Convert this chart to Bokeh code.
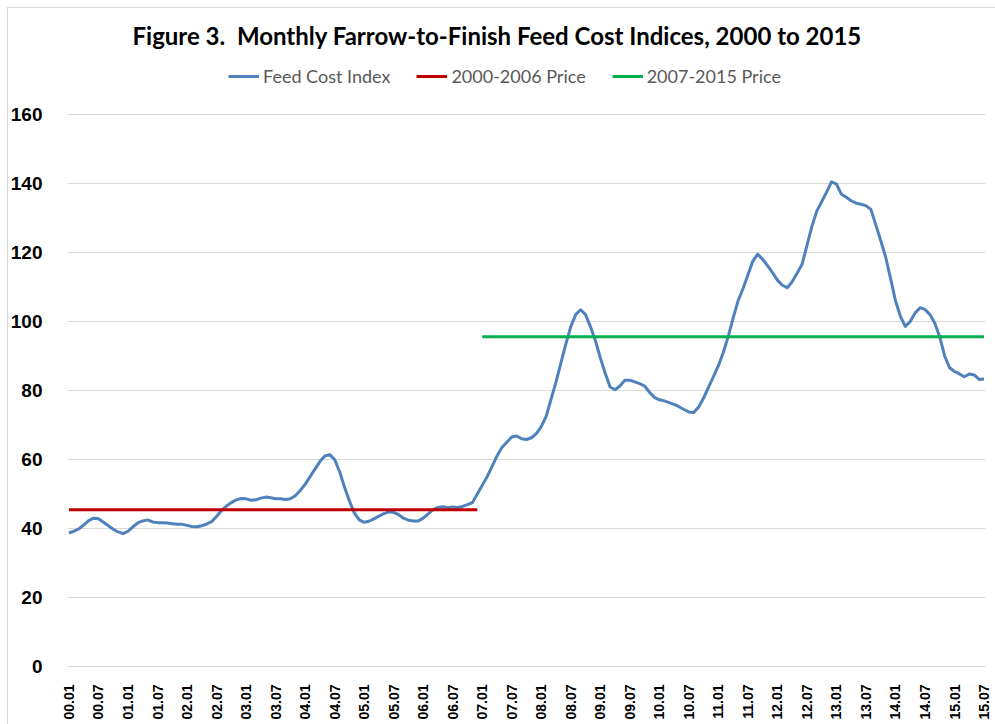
from bokeh.plotting import figure
from bokeh.models import (Range1d, FixedTicker, Legend, LegendItem, InlineStyleSheet)
from bokeh.embed import file_html
from bokeh.resources import INLINE

# ---- data -------------------------------------------------------------
years = list(range(2000, 2016))
months = [f"{y}.{m:02d}" for y in years for m in range(1, 13)][:187]  # 2000.01 .. 2015.07

feed_cost_index = [
    # 2000
    38.7, 39.2, 39.9, 41.0, 42.3, 43.0, 42.8, 41.8, 40.8, 39.8, 39.0, 38.5,
    # 2001
    39.2, 40.5, 41.6, 42.2, 42.5, 41.9, 41.7, 41.7, 41.6, 41.4, 41.2, 41.2,
    # 2002
    40.9, 40.6, 40.5, 40.8, 41.3, 42.0, 43.5, 45.2, 46.5, 47.5, 48.3, 48.7,
    # 2003
    48.6, 48.2, 48.3, 48.8, 49.1, 48.9, 48.6, 48.6, 48.4, 48.6, 49.5, 51.0,
    # 2004
    52.8, 55.0, 57.2, 59.4, 61.0, 61.4, 60.0, 56.5, 52.0, 48.0, 44.5, 42.5,
    # 2005
    41.8, 42.1, 42.8, 43.6, 44.3, 44.8, 44.7, 44.0, 43.0, 42.4, 42.2, 42.2,
    # 2006
    43.0, 44.2, 45.5, 46.1, 46.3, 46.0, 46.2, 46.1, 46.4, 46.9, 47.5, 50.0,
    # 2007
    52.5, 55.0, 58.0, 61.0, 63.5, 65.0, 66.5, 66.8, 66.0, 65.8, 66.3, 67.5,
    # 2008
    69.5, 72.5, 77.5, 82.5, 88.0, 93.5, 98.5, 102.0, 103.4, 102.0, 98.5, 94.5,
    # 2009
    89.5, 85.0, 81.0, 80.2, 81.3, 83.0, 83.0, 82.5, 82.0, 81.3, 79.5, 78.0,
    # 2010
    77.3, 77.0, 76.5, 76.0, 75.3, 74.5, 73.8, 73.6, 75.2, 77.8, 81.0, 84.0,
    # 2011
    87.2, 91.0, 95.6, 101.0, 106.0, 109.5, 113.5, 117.5, 119.5, 118.0, 116.2, 114.2,
    # 2012
    112.0, 110.5, 109.8, 111.5, 114.0, 116.5, 122.0, 127.5, 132.0, 134.7, 137.5, 140.5,
    # 2013
    139.8, 136.9, 136.0, 135.0, 134.3, 134.0, 133.6, 132.5, 128.0, 123.5, 118.7, 112.5,
    # 2014
    106.0, 101.5, 98.6, 100.0, 102.5, 104.0, 103.5, 102.0, 99.5, 95.5, 90.0, 86.6,
    # 2015
    85.5, 84.8, 84.0, 84.8, 84.5, 83.2, 83.3,
]

avg_2000_2006 = 45.4
avg_2007_2015 = 95.6
period1 = ("2000.01", "2006.12")
period2 = ("2007.01", "2015.07")

y_ticks = [0, 20, 40, 60, 80, 100, 120, 140, 160]

title_text = "Figure 3.\u00a0 Monthly Farrow-to-Finish Feed Cost Indices, 2000 to 2015"
series_labels = ["Feed Cost Index", "2000-2006 Price", "2007-2015 Price"]

# ---- derived ----------------------------------------------------------
x_idx = list(range(len(months)))
tick_idx = x_idx[::6]
tick_labels = {i: months[i][2:] for i in tick_idx}

p1_x = [months.index(period1[0]), months.index(period1[1])]
p2_x = [months.index(period2[0]), months.index(period2[1])]

# ---- figure -----------------------------------------------------------
# the frame reaches above the top gridline (160) to leave room for the legend
W, H = 993, 722
frame_top_px, frame_bottom_px = 56, 666
px_per_unit = (frame_bottom_px - 114) / y_ticks[-1]
y_top = (frame_bottom_px - frame_top_px) / px_per_unit

chart_border = InlineStyleSheet(css="""
:host::after {
  content: "";
  position: absolute;
  left: 7px; top: 7px; right: -20px; bottom: -20px;
  border-top: 1px solid #d9d9d9;
  border-left: 1px solid #d9d9d9;
  pointer-events: none;
  z-index: 10;
}
""")

p = figure(width=W, height=H, output_backend="svg", toolbar_location=None,
           x_range=Range1d(-0.3, len(months) - 0.7), y_range=Range1d(0, y_top),
           min_border_left=67, min_border_right=8, min_border_top=frame_top_px,
           min_border_bottom=H - frame_bottom_px)
p.stylesheets = [chart_border]
p.outline_line_color = None
p.background_fill_color = "white"
p.border_fill_color = "white"

r_feed = p.line(x_idx, feed_cost_index, line_color="#4f81bd", line_width=3,
                line_join="round")
r_p1 = p.line(p1_x, [avg_2000_2006] * 2, line_color="#c00000", line_width=3)
r_p2 = p.line(p2_x, [avg_2007_2015] * 2, line_color="#00b050", line_width=3)

# title
p.title.text = title_text
p.title.align = "left"
p.title.offset = 65
p.title.standoff = 14
p.title.text_font = "Lato"
p.title.text_font_style = "bold"
p.title.text_font_size = "24px"
p.title.text_color = "black"

legend = Legend(items=[LegendItem(label=series_labels[0], renderers=[r_feed]),
                       LegendItem(label=series_labels[1], renderers=[r_p1]),
                       LegendItem(label=series_labels[2], renderers=[r_p2])],
                orientation="horizontal", location=(161, 579),
                label_text_font="Lato", label_text_font_size="18px",
                label_text_color="#595959", glyph_width=31, glyph_height=16,
                label_standoff=4, spacing=26, border_line_color=None,
                background_fill_alpha=0, padding=0, margin=0)
p.add_layout(legend)

# axes
xa = p.xaxis[0]
xa.ticker = FixedTicker(ticks=tick_idx)
xa.major_label_overrides = tick_labels
xa.major_label_orientation = 1.5707963267948966
xa.major_label_text_font = "Liberation Sans"
xa.major_label_text_font_style = "bold"
xa.major_label_text_font_size = "14px"
xa.major_label_text_color = "black"
xa.major_tick_line_color = None
xa.minor_tick_line_color = None
xa.axis_line_color = "#d9d9d9"
xa.major_label_standoff = 12

ya = p.yaxis[0]
ya.ticker = FixedTicker(ticks=y_ticks)
ya.major_label_text_font = "Liberation Sans"
ya.major_label_text_font_style = "bold"
ya.major_label_text_font_size = "19px"
ya.major_label_text_color = "black"
ya.major_tick_line_color = None
ya.minor_tick_line_color = None
ya.axis_line_color = None
ya.major_label_standoff = 19

p.xgrid.grid_line_color = None
p.ygrid.ticker = FixedTicker(ticks=y_ticks)
p.ygrid.grid_line_color = "#d9d9d9"
p.ygrid.grid_line_width = 1

open("out.html", "w").write(file_html(p, INLINE))
